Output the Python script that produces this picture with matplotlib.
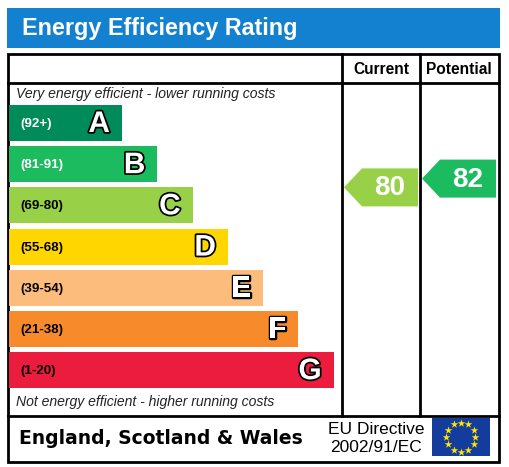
import numpy as np
import matplotlib
matplotlib.use('Agg')
from matplotlib import pyplot as plt
from matplotlib.patches import Rectangle, Polygon
import matplotlib.patheffects as pe

# rating bands, best to worst
bands = ['A', 'B', 'C', 'D', 'E', 'F', 'G']
band_ranges = ['(92+)', '(81-91)', '(69-80)', '(55-68)', '(39-54)', '(21-38)', '(1-20)']
band_low = [92, 81, 69, 55, 39, 21, 1]
band_high = [100, 91, 80, 68, 54, 38, 20]
band_colors = ['#008c5a', '#1dbb5f', '#98d147', '#ffd600', '#fcbc7b', '#f78b2b', '#eb1c3d']
range_colors = ['white', 'white', 'black', 'black', 'black', 'black', 'black']

current = 80
potential = 82

title = 'Energy Efficiency Rating'
col_titles = ['Current', 'Potential']
top_note = 'Very energy efficient - lower running costs'
bottom_note = 'Not energy efficient - higher running costs'
country = 'England, Scotland & Wales'
directive = ['EU Directive', '2002/91/EC']

W, H = 509, 467
fig = plt.figure(figsize=(W/100, H/100), dpi=100)
ax = fig.add_axes([0, 0, 1, 1])
ax.set_xlim(0, W)
ax.set_ylim(H, 0)
ax.axis('off')

sans = ['Liberation Sans', 'DejaVu Sans']

# blue title bar
ax.add_patch(Rectangle((7, 8), 493, 40, color='#1480d0', lw=0))
ax.text(22, 29, title, color='white', fontsize=16.8, fontweight='bold', family=sans, va='center')

# table frame
lw = 2
ax.add_patch(Rectangle((8, 54), 491, 408, fill=False, ec='black', lw=lw))
ax.plot([8, 499], [83, 83], color='black', lw=lw)
ax.plot([8, 499], [416, 416], color='black', lw=lw)
ax.plot([342, 342], [54, 416], color='black', lw=lw)
ax.plot([420, 420], [54, 416], color='black', lw=lw)
ax.text(381, 69, col_titles[0], fontsize=11.2, fontweight='bold', family=sans, ha='center', va='center')
ax.text(459, 69, col_titles[1], fontsize=11.2, fontweight='bold', family=sans, ha='center', va='center')

ax.text(16, 94, top_note, fontsize=10.1, style='italic', family=sans, va='center', color='#222222')
ax.text(16, 402, bottom_note, fontsize=10.1, style='italic', family=sans, va='center', color='#222222')

# bars
bar_left = 9
bar_h = 36
centers = 123 + 41.2*np.arange(len(bands))
widths = 113 + 35.3*np.arange(len(bands))
ax.barh(centers, widths, height=bar_h, left=bar_left, color=band_colors, lw=0)
outline = [pe.withStroke(linewidth=2.5, foreground='black')]
for i in range(len(bands)):
    ax.text(20, centers[i] + 1, band_ranges[i], color=range_colors[i], fontsize=9.6,
            fontweight='bold', family=sans, va='center')
    ax.text(bar_left + widths[i] - 12, centers[i] + 1, bands[i], color='white', fontsize=21.5,
            fontweight='bold', family=sans, ha='right', va='center', path_effects=outline)

def score_y(score):
    for i in range(len(bands)):
        if band_low[i] <= score <= band_high[i]:
            frac = (score - band_low[i]) / (band_high[i] - band_low[i])
            return centers[i] + bar_h/2 - frac*bar_h
    return centers[-1]

def band_of(score):
    for i in range(len(bands)):
        if band_low[i] <= score <= band_high[i]:
            return i
    return len(bands) - 1

def arrow(x_tip, score):
    yc = score_y(score)
    col = band_colors[band_of(score)]
    h = 19
    pts = [(x_tip, yc), (x_tip + 18, yc - h), (x_tip + 74, yc - h), (x_tip + 74, yc + h), (x_tip + 18, yc + h)]
    ax.add_patch(Polygon(pts, closed=True, color=col, lw=0))
    ax.text(x_tip + 46, yc + 1, str(score), color='white', fontsize=20, fontweight='bold',
            family=sans, ha='center', va='center')

arrow(344, current)
arrow(422, potential)

# footer
ax.text(19, 438, country, fontsize=13.5, fontweight='bold', family='DejaVu Sans', va='center')
ax.text(376, 429, directive[0], fontsize=12.5, family=sans, ha='center', va='center')
ax.text(376, 448, directive[1], fontsize=12.5, family=sans, ha='center', va='center')

# EU flag
ax.add_patch(Rectangle((432, 418), 58, 38, color='#133c9c', lw=0))
ang = np.linspace(0, 2*np.pi, 12, endpoint=False)
ax.scatter(461 + 14.5*np.cos(ang), 437 + 14.5*np.sin(ang), marker='*', s=34, color='#ffe500', lw=0)

fig.savefig('out.png', dpi=100)
